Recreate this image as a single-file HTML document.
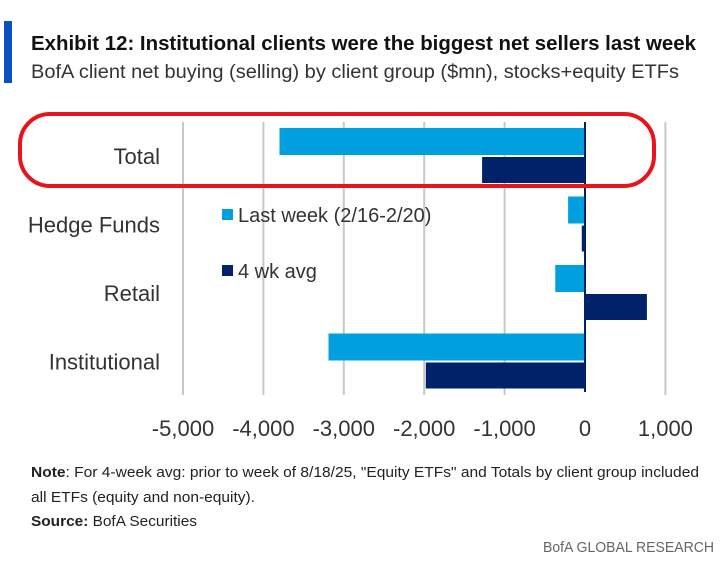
<!DOCTYPE html>
<html><head><meta charset="utf-8"><style>
body{margin:0;background:#fff;width:723px;height:567px;overflow:hidden;font-family:"Liberation Sans",sans-serif;}
svg text{font-family:"Liberation Sans",sans-serif;}
</style></head><body>
<svg id="c" width="723" height="567" viewBox="0 0 723 567" xmlns="http://www.w3.org/2000/svg">
<rect x="4" y="21" width="8" height="62" fill="#0a4fc4"/>
<text x="31" y="50" font-size="20" font-weight="bold" fill="#111" textLength="665" lengthAdjust="spacingAndGlyphs">Exhibit 12: Institutional clients were the biggest net sellers last week</text>
<text x="31" y="78" font-size="19" fill="#333" textLength="648" lengthAdjust="spacingAndGlyphs">BofA client net buying (selling) by client group ($mn), stocks+equity ETFs</text>
<g id="grid"></g>
<g id="bars"></g>
<g id="labels"></g>
<g id="ticks"></g>
<g>
<rect x="222" y="209" width="11" height="11" fill="#00a0df"/>
<text x="238" y="222" font-size="20" fill="#333">Last week (2/16-2/20)</text>
<rect x="222" y="265" width="11" height="11" fill="#012169"/>
<text x="238" y="278" font-size="20" fill="#333">4 wk avg</text>
</g>
<rect x="20" y="114" width="634" height="72" rx="30" ry="30" fill="none" stroke="#e8141c" stroke-width="4"/>
<text x="31" y="477" font-size="15" fill="#222" textLength="668" lengthAdjust="spacingAndGlyphs"><tspan font-weight="bold">Note</tspan>: For 4-week avg: prior to week of 8/18/25, "Equity ETFs" and Totals by client group included</text>
<text x="31" y="502" font-size="15" fill="#222" textLength="224" lengthAdjust="spacingAndGlyphs">all ETFs (equity and non-equity).</text>
<text x="31" y="526" font-size="15" fill="#222" textLength="166" lengthAdjust="spacingAndGlyphs"><tspan font-weight="bold">Source:</tspan> BofA Securities</text>
<text x="714" y="552" font-size="15" fill="#666" text-anchor="end" textLength="171" lengthAdjust="spacingAndGlyphs">BofA GLOBAL RESEARCH</text>
</svg>
<script>
const categories=["Total","Hedge Funds","Retail","Institutional"];
const lastWeek=[-3800,-210,-370,-3190];
const fourWkAvg=[-1280,-40,770,-1980];
const tickValues=[-5000,-4000,-3000,-2000,-1000,0,1000];
const tickLabels=["-5,000","-4,000","-3,000","-2,000","-1,000","0","1,000"];
const NS="http://www.w3.org/2000/svg";
function x(v){return 585+(v/1000)*80.4;}
function yc(i){return 156+i*68.5;}
function mk(t,a,p){const e=document.createElementNS(NS,t);for(const k in a)e.setAttribute(k,a[k]);p.appendChild(e);return e;}
const grid=document.getElementById('grid'),bars=document.getElementById('bars'),labels=document.getElementById('labels'),ticks=document.getElementById('ticks');
tickValues.forEach((v,i)=>{
 if(v!==0){const g=mk('line',{x1:x(v),x2:x(v),y1:122,y2:395,stroke:'#c8c8c8','stroke-width':2},grid);
 
 }
 const t=mk('text',{x:x(v),y:436,'font-size':22,fill:'#333','text-anchor':'middle'},ticks);
 t.textContent=tickLabels[i];
 
 
});
categories.forEach((c,i)=>{
 const cy=yc(i);
 const a=lastWeek[i],b=fourWkAvg[i];
 const r1=mk('rect',{x:Math.min(x(a),x(0)),y:cy-28,width:Math.abs(x(a)-x(0)),height:27,fill:'#00a0df'},bars);
 
 
 const r2=mk('rect',{x:Math.min(x(b),x(0)),y:cy+1,width:Math.abs(x(b)-x(0)),height:26,fill:'#012169'},bars);
 
 
 const t=mk('text',{x:160,y:cy+8,'font-size':22,fill:'#333','text-anchor':'end'},labels);
 t.textContent=c;
 
 
});
const z=mk('line',{x1:x(0),x2:x(0),y1:122,y2:392,stroke:'#012169','stroke-width':2},bars);


</script>
</body></html>
